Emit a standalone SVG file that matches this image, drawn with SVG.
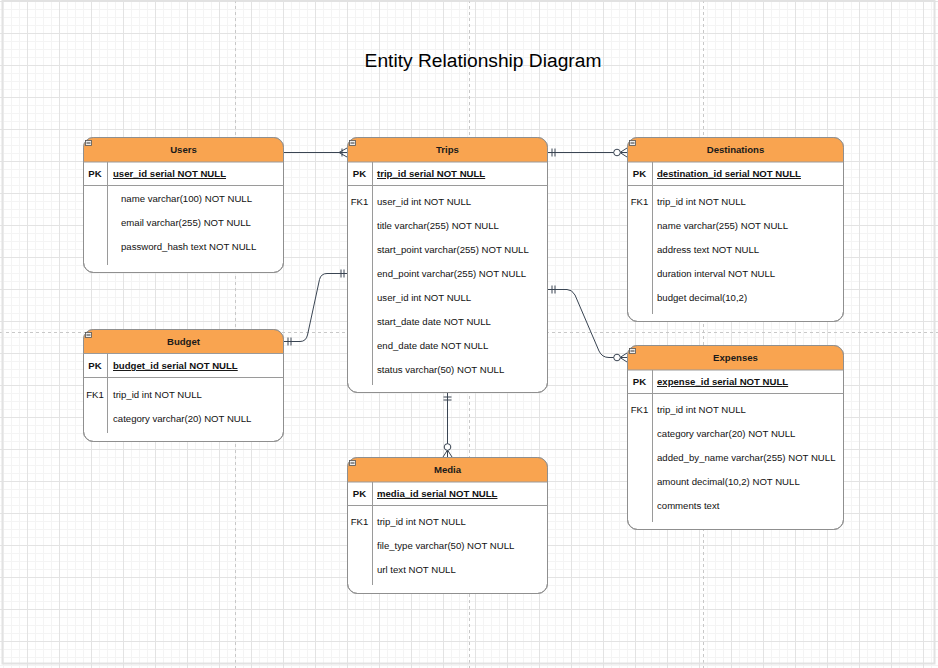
<svg xmlns="http://www.w3.org/2000/svg" width="938" height="668" viewBox="0 0 938 668">
<defs>
<pattern id="minor" width="8" height="8" patternUnits="userSpaceOnUse" x="27" y="1"><path d="M0 0.5H8M0.5 0V8" stroke="#f4f4f4" stroke-width="1" fill="none"/></pattern>
<pattern id="major" width="32" height="32" patternUnits="userSpaceOnUse" x="27" y="1"><path d="M0 0.5H32M0.5 0V32" stroke="#e3e3e3" stroke-width="1" fill="none"/></pattern>
<marker id="mandS" markerWidth="20" markerHeight="20" refX="0" refY="10" viewBox="0 0 20 20" markerUnits="userSpaceOnUse" orient="auto" overflow="visible"><path d="M5 6V14M8 6V14" stroke="#3a4553" stroke-width="1" fill="none"/></marker>
<marker id="mandE" markerWidth="20" markerHeight="20" refX="20" refY="10" viewBox="0 0 20 20" markerUnits="userSpaceOnUse" orient="auto" overflow="visible"><path d="M14 6V14M17 6V14" stroke="#3a4553" stroke-width="1" fill="none"/></marker>
<marker id="oneMany" markerWidth="20" markerHeight="20" refX="20" refY="10" viewBox="0 0 20 20" markerUnits="userSpaceOnUse" orient="auto" overflow="visible"><path d="M15 6V14M12 10L20 5.5M12 10L20 14.5" stroke="#3a4553" stroke-width="1" fill="none"/></marker>
<marker id="zeroMany" markerWidth="20" markerHeight="20" refX="20" refY="10" viewBox="0 0 20 20" markerUnits="userSpaceOnUse" orient="auto" overflow="visible"><path d="M13 10L20 5.5M13 10L20 14.5M13 10H20" stroke="#3a4553" stroke-width="1" fill="none"/><circle cx="10" cy="10" r="3.3" fill="#fff" stroke="#3a4553" stroke-width="1"/></marker>
</defs>
<style>
.tbl{fill:#fff;stroke:#8f8f8f;stroke-width:1}
.out{fill:none;stroke:#8f8f8f;stroke-width:1}
.hdr{fill:#f9a450}
.ln{stroke:#9a9a9a;stroke-width:1;fill:none}
.t{font-family:"Liberation Sans",Arial,Helvetica,sans-serif;font-size:9.6px;fill:#111}
.h{font-weight:bold;text-anchor:middle;fill:#1a1a1a}
.k{font-weight:bold;text-anchor:middle}
.f{text-anchor:middle}
.pk{font-weight:bold;text-decoration:underline}
.mini{fill:#eee;stroke:#555;stroke-width:0.8}
.edge{fill:none;stroke:#3a4553;stroke-width:1}
.dash{stroke:#c8c8c8;stroke-width:1;stroke-dasharray:3 3;fill:none}
</style>
<rect width="938" height="668" fill="#fff"/>
<rect width="938" height="668" fill="url(#minor)"/>
<rect width="938" height="668" fill="url(#major)"/>
<path class="dash" d="M235.5 0V668M469.5 0V668M703.5 0V668M0 332.5H938"/>
<rect x="2.5" y="0.5" width="932" height="663" fill="none" stroke="#e2e2e2" stroke-width="2"/>
<text class="t" x="483" y="67" text-anchor="middle" style="font-size:19.2px;fill:#000">Entity Relationship Diagram</text>

<g id="connectors">
<path class="edge" d="M283 152.5H347" marker-end="url(#oneMany)"/>
<path class="edge" d="M547 152.5H627" marker-start="url(#mandS)" marker-end="url(#zeroMany)"/>
<path class="edge" d="M283 341.5H300Q306 341.5 307.5 335L319.5 279.5Q321 273.5 327 273.5H347" marker-start="url(#mandS)" marker-end="url(#mandE)"/>
<path class="edge" d="M547 289.5H567Q572 289.5 575 295L599 351Q602 357.5 609 357.5H627" marker-start="url(#mandS)" marker-end="url(#zeroMany)"/>
<path class="edge" d="M447.5 392V457" marker-start="url(#mandS)" marker-end="url(#zeroMany)"/>
</g>

<g id="users">
<rect class="tbl" x="83.5" y="137.5" width="200" height="135" rx="10"/>
<path class="hdr" d="M83.5 162V147.5A10 10 0 0 1 93.5 137.5H273.5A10 10 0 0 1 283.5 147.5V162Z"/>
<rect class="out" x="83.5" y="137.5" width="200" height="135" rx="10"/>
<path class="ln" d="M83.5 162H283.5M83.5 185.5H283.5M107.5 162V265"/>
<rect class="mini" x="85.5" y="140.5" width="6" height="5"/><path d="M86.5 143H90.5" stroke="#333" stroke-width="1"/>
<text class="t h" x="183.5" y="153">Users</text>
<text class="t k" x="95" y="177">PK</text>
<text class="t pk" x="113" y="177">user_id serial NOT NULL</text>
<text class="t" x="121" y="201.5">name varchar(100) NOT NULL</text>
<text class="t" x="121" y="225.5">email varchar(255) NOT NULL</text>
<text class="t" x="121" y="249.5">password_hash text NOT NULL</text>
</g>

<g id="trips">
<rect class="tbl" x="347.5" y="137.5" width="200" height="255" rx="10"/>
<path class="hdr" d="M347.5 162V147.5A10 10 0 0 1 357.5 137.5H537.5A10 10 0 0 1 547.5 147.5V162Z"/>
<rect class="out" x="347.5" y="137.5" width="200" height="255" rx="10"/>
<path class="ln" d="M347.5 162H547.5M347.5 185.5H547.5M372.5 162V385"/>
<rect class="mini" x="349.5" y="140.5" width="6" height="5"/><path d="M350.5 143H354.5" stroke="#333" stroke-width="1"/>
<text class="t h" x="447.5" y="153">Trips</text>
<text class="t k" x="359.5" y="177">PK</text>
<text class="t pk" x="377" y="177">trip_id serial NOT NULL</text>
<text class="t f" x="359.5" y="204.5">FK1</text>
<text class="t" x="377" y="204.5">user_id int NOT NULL</text>
<text class="t" x="377" y="228.5">title varchar(255) NOT NULL</text>
<text class="t" x="377" y="252.5">start_point varchar(255) NOT NULL</text>
<text class="t" x="377" y="276.5">end_point varchar(255) NOT NULL</text>
<text class="t" x="377" y="300.5">user_id int NOT NULL</text>
<text class="t" x="377" y="324.5">start_date date NOT NULL</text>
<text class="t" x="377" y="348.5">end_date date NOT NULL</text>
<text class="t" x="377" y="372.5">status varchar(50) NOT NULL</text>
</g>

<g id="destinations">
<rect class="tbl" x="627.5" y="137.5" width="216" height="184" rx="10"/>
<path class="hdr" d="M627.5 162V147.5A10 10 0 0 1 637.5 137.5H833.5A10 10 0 0 1 843.5 147.5V162Z"/>
<rect class="out" x="627.5" y="137.5" width="216" height="184" rx="10"/>
<path class="ln" d="M627.5 162H843.5M627.5 185.5H843.5M652.5 162V314"/>
<rect class="mini" x="629.5" y="140.5" width="6" height="5"/><path d="M630.5 143H634.5" stroke="#333" stroke-width="1"/>
<text class="t h" x="735.5" y="153">Destinations</text>
<text class="t k" x="639.5" y="177">PK</text>
<text class="t pk" x="657" y="177">destination_id serial NOT NULL</text>
<text class="t f" x="639.5" y="204.5">FK1</text>
<text class="t" x="657" y="204.5">trip_id int NOT NULL</text>
<text class="t" x="657" y="228.5">name varchar(255) NOT NULL</text>
<text class="t" x="657" y="252.5">address text NOT NULL</text>
<text class="t" x="657" y="276.5">duration interval NOT NULL</text>
<text class="t" x="657" y="300.5">budget decimal(10,2)</text>
</g>

<g id="budget">
<rect class="tbl" x="83.5" y="329.5" width="200" height="112" rx="10"/>
<path class="hdr" d="M83.5 353.5V339.5A10 10 0 0 1 93.5 329.5H273.5A10 10 0 0 1 283.5 339.5V353.5Z"/>
<rect class="out" x="83.5" y="329.5" width="200" height="112" rx="10"/>
<path class="ln" d="M83.5 353.5H283.5M83.5 377.5H283.5M107.5 353.5V433"/>
<rect class="mini" x="85.5" y="332.5" width="6" height="5"/><path d="M86.5 335H90.5" stroke="#333" stroke-width="1"/>
<text class="t h" x="183.5" y="345">Budget</text>
<text class="t k" x="95" y="369">PK</text>
<text class="t pk" x="113" y="369">budget_id serial NOT NULL</text>
<text class="t f" x="95" y="397.5">FK1</text>
<text class="t" x="113" y="397.5">trip_id int NOT NULL</text>
<text class="t" x="113" y="421.5">category varchar(20) NOT NULL</text>
</g>

<g id="expenses">
<rect class="tbl" x="627.5" y="345.5" width="216" height="184" rx="10"/>
<path class="hdr" d="M627.5 370V355.5A10 10 0 0 1 637.5 345.5H833.5A10 10 0 0 1 843.5 355.5V370Z"/>
<rect class="out" x="627.5" y="345.5" width="216" height="184" rx="10"/>
<path class="ln" d="M627.5 370H843.5M627.5 393.5H843.5M652.5 370V522"/>
<rect class="mini" x="629.5" y="348.5" width="6" height="5"/><path d="M630.5 351H634.5" stroke="#333" stroke-width="1"/>
<text class="t h" x="735.5" y="361">Expenses</text>
<text class="t k" x="639.5" y="385">PK</text>
<text class="t pk" x="657" y="385">expense_id serial NOT NULL</text>
<text class="t f" x="639.5" y="413">FK1</text>
<text class="t" x="657" y="413">trip_id int NOT NULL</text>
<text class="t" x="657" y="437">category varchar(20) NOT NULL</text>
<text class="t" x="657" y="461">added_by_name varchar(255) NOT NULL</text>
<text class="t" x="657" y="485">amount decimal(10,2) NOT NULL</text>
<text class="t" x="657" y="509">comments text</text>
</g>

<g id="media">
<rect class="tbl" x="347.5" y="457.5" width="200" height="136" rx="10"/>
<path class="hdr" d="M347.5 482V467.5A10 10 0 0 1 357.5 457.5H537.5A10 10 0 0 1 547.5 467.5V482Z"/>
<rect class="out" x="347.5" y="457.5" width="200" height="136" rx="10"/>
<path class="ln" d="M347.5 482H547.5M347.5 505.5H547.5M372.5 482V585"/>
<rect class="mini" x="349.5" y="460.5" width="6" height="5"/><path d="M350.5 463H354.5" stroke="#333" stroke-width="1"/>
<text class="t h" x="447.5" y="473">Media</text>
<text class="t k" x="359.5" y="497">PK</text>
<text class="t pk" x="377" y="497">media_id serial NOT NULL</text>
<text class="t f" x="359.5" y="525">FK1</text>
<text class="t" x="377" y="525">trip_id int NOT NULL</text>
<text class="t" x="377" y="549">file_type varchar(50) NOT NULL</text>
<text class="t" x="377" y="573">url text NOT NULL</text>
</g>
</svg>
